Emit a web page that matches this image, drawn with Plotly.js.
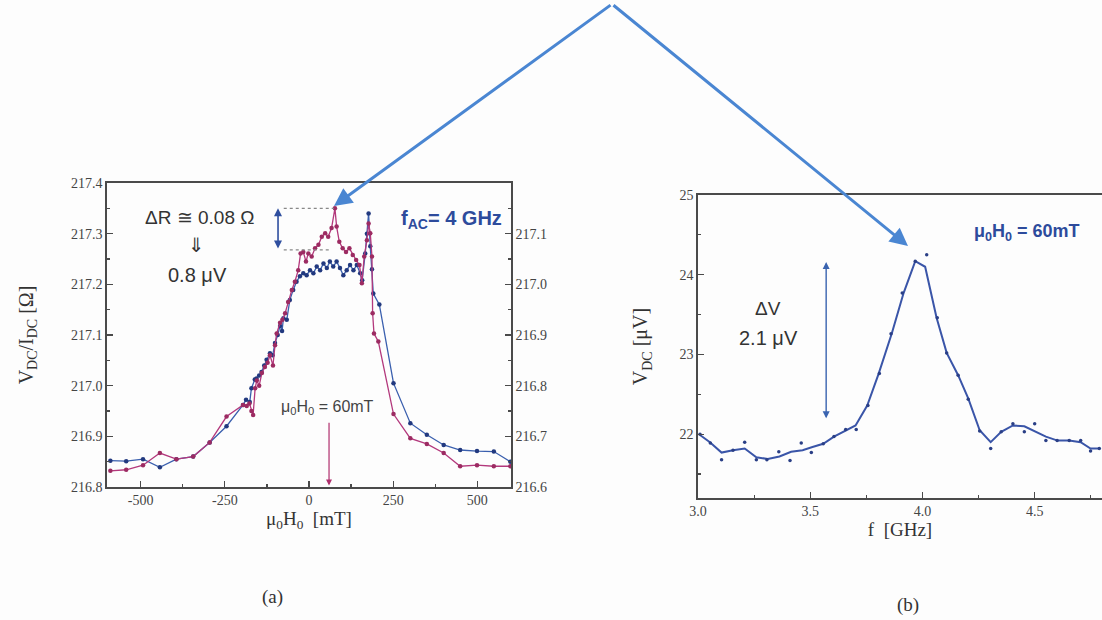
<!DOCTYPE html>
<html>
<head>
<meta charset="utf-8">
<script src="https://cdn.plot.ly/plotly-3.0.1.min.js"></script>
<style>html,body{margin:0;padding:0;background:#fdfdfd;}#chart{width:1102px;height:620px;}</style>
</head>
<body>
<div id="chart"></div>
<script>
// ---- Panel (a): resistance vs field ----
// blue curve, read on the left axis
const blueH = [-590,-543,-493,-443,-394,-344,-295,-245,-196,-187,-176,-171,-161,-156,-148,-141,-133,-126,-116,-108,-101,-93,-86,-80,-76,-66,-57,-47,-37,-27,-17,-7,3,13,23,33,43,53,62,72,82,92,102,112,122,132,142,152,158,167,172,177,182,187,191,209,251,301,350,400,449,499,549,598];
const blueR = [216.852,216.851,216.855,216.839,216.855,216.860,216.888,216.920,216.962,216.972,216.968,216.995,217.012,217.014,217.020,217.027,217.040,217.051,217.064,217.060,217.084,217.100,217.118,217.108,217.133,217.130,217.169,217.189,217.205,217.216,217.222,217.218,217.228,217.222,217.235,217.228,217.241,217.232,217.245,217.235,217.245,217.232,217.218,217.228,217.238,217.228,217.238,217.222,217.208,217.261,217.300,217.340,217.275,217.230,217.182,217.160,217.005,216.926,216.903,216.883,216.873,216.871,216.870,216.850];
// magenta curve, read on the right axis
const magH = [-590,-543,-493,-443,-394,-344,-295,-245,-196,-185,-177,-171,-166,-160,-155,-148,-140,-131,-123,-116,-107,-101,-96,-86,-79,-71,-62,-51,-42,-32,-25,-17,-9,-2,8,18,28,38,48,57,67,77,82,90,100,110,120,130,140,150,157,164,172,177,182,187,189,193,206,251,301,350,400,449,499,549,598];
const magR = [216.632,216.634,216.643,216.667,216.655,216.660,216.688,216.739,216.762,216.760,216.765,216.750,216.742,216.795,216.810,216.800,216.825,216.837,216.845,216.860,216.840,216.880,216.903,216.924,216.930,216.943,216.965,216.989,217.005,217.028,217.061,217.064,217.045,217.061,217.055,217.071,217.078,217.094,217.101,217.094,217.111,217.150,217.114,217.084,217.071,217.064,217.071,217.058,217.048,217.038,217.002,217.055,217.087,217.120,217.101,217.055,216.943,216.903,216.887,216.744,216.696,216.685,216.667,216.641,216.643,216.641,216.641];
const aXTicks = [-500,-250,0,250,500];
const aLeftTicks = [216.8,216.9,217.0,217.1,217.2,217.3,217.4];
const aRightTicks = [216.6,216.7,216.8,216.9,217.0,217.1];

// ---- Panel (b): DC voltage vs frequency ----
const fLine = [3.009,3.053,3.105,3.156,3.208,3.260,3.311,3.363,3.415,3.466,3.510,3.558,3.606,3.658,3.702,3.754,3.805,3.864,3.916,3.968,4.012,4.063,4.108,4.159,4.204,4.255,4.304,4.351,4.403,4.454,4.506,4.550,4.602,4.654,4.705,4.749,4.788];
const vLine = [21.99,21.90,21.77,21.80,21.82,21.71,21.69,21.72,21.78,21.80,21.84,21.88,21.97,22.05,22.11,22.36,22.76,23.27,23.77,24.17,24.10,23.46,23.02,22.74,22.45,22.05,21.90,22.03,22.11,22.10,22.03,21.97,21.92,21.92,21.90,21.82,21.82];
const fDots = [3.009,3.055,3.105,3.156,3.208,3.260,3.307,3.360,3.410,3.460,3.505,3.558,3.606,3.658,3.705,3.757,3.808,3.860,3.910,3.968,4.019,4.066,4.108,4.159,4.204,4.255,4.304,4.351,4.403,4.454,4.500,4.550,4.600,4.654,4.705,4.749,4.788];
const vDots = [22.00,21.89,21.68,21.80,21.90,21.68,21.68,21.78,21.67,21.89,21.77,21.88,21.97,22.06,22.06,22.36,22.76,23.26,23.77,24.17,24.25,23.46,23.02,22.74,22.44,22.04,21.82,22.03,22.13,22.03,22.13,21.92,21.92,21.92,21.92,21.79,21.82];
const bXTicks = [3.0,3.5,4.0,4.5];
const bYTicks = [22,23,24,25];

const W = 1102, H = 620;
const px = x => x / W;
const py = y => 1 - y / H;

const serif = 'Liberation Serif';
const sans = 'Liberation Sans';
const axisCol = '#4a4a4a';
const dkBlue = '#2d4b9c';

const traces = [
  {x: blueH, y: blueR, xaxis: 'x', yaxis: 'y', mode: 'lines+markers',
   line: {color: '#3a5fae', width: 1.3}, marker: {color: '#22397f', size: 4.5}},
  {x: magH, y: magR, xaxis: 'x', yaxis: 'y3', mode: 'lines+markers',
   line: {color: '#b3387c', width: 1.3}, marker: {color: '#9c2b62', size: 4.5}},
  {x: fLine, y: vLine, xaxis: 'x2', yaxis: 'y2', mode: 'lines',
   line: {color: '#3a55a8', width: 2}},
  {x: fDots, y: vDots, xaxis: 'x2', yaxis: 'y2', mode: 'markers',
   marker: {color: '#2a3f86', size: 3.5}}
];

function axisBase() {
  return {
    showgrid: false, zeroline: false, showline: true, linecolor: axisCol, linewidth: 1.6,
    ticks: 'inside', ticklen: 6, tickcolor: axisCol, tickwidth: 1.2,
    tickfont: {family: serif, size: 14, color: '#444'}
  };
}

const layout = {
  width: W, height: H,
  margin: {l: 0, r: 0, t: 0, b: 0},
  paper_bgcolor: '#fdfdfd', plot_bgcolor: 'rgba(0,0,0,0)',
  showlegend: false,
  xaxis: Object.assign(axisBase(), {
    domain: [px(107), px(511)], anchor: 'y', range: [-600, 600], mirror: true,
    tickmode: 'array', tickvals: aXTicks, ticktext: aXTicks.map(String),
    minor: {dtick: 125, tick0: 0, ticks: 'inside', ticklen: 3, tickcolor: axisCol},
    title: {text: 'μ<sub>0</sub>H<sub>0</sub>  [mT]', font: {family: serif, size: 19, color: '#333'}, standoff: 2}
  }),
  yaxis: Object.assign(axisBase(), {
    domain: [py(487), py(183)], anchor: 'x', range: [216.8, 217.4],
    tickmode: 'array', tickvals: aLeftTicks, ticktext: aLeftTicks.map(v => v.toFixed(1)),
    minor: {dtick: 0.05, tick0: 216.8, ticks: 'inside', ticklen: 3, tickcolor: axisCol},
    title: {text: 'V<sub>DC</sub>/I<sub>DC</sub> [Ω]', font: {family: serif, size: 20, color: '#333'}, standoff: 32}
  }),
  yaxis3: Object.assign(axisBase(), {
    overlaying: 'y', side: 'right', anchor: 'x', range: [216.6, 217.2],
    tickmode: 'array', tickvals: aRightTicks, ticktext: aRightTicks.map(v => v.toFixed(1)),
    minor: {dtick: 0.05, tick0: 216.6, ticks: 'inside', ticklen: 3, tickcolor: axisCol}
  }),
  xaxis2: Object.assign(axisBase(), {
    domain: [px(698), 1], anchor: 'y2', range: [3.0, 4.8], mirror: true,
    tickmode: 'array', tickvals: bXTicks, ticktext: bXTicks.map(v => v.toFixed(1)),
    minor: {dtick: 0.25, tick0: 3.0, ticks: 'inside', ticklen: 3, tickcolor: axisCol},
    title: {text: 'f  [GHz]', font: {family: serif, size: 19, color: '#333'}, standoff: 4}
  }),
  yaxis2: Object.assign(axisBase(), {
    domain: [py(498), py(195)], anchor: 'x2', range: [21.2, 25],
    tickmode: 'array', tickvals: bYTicks, ticktext: bYTicks.map(String),
    minor: {dtick: 0.5, tick0: 21, ticks: 'inside', ticklen: 3, tickcolor: axisCol},
    title: {text: 'V<sub>DC</sub> [μV]', font: {family: serif, size: 20, color: '#333'}, standoff: 26}
  }),
  shapes: [
    {type: 'line', xref: 'x', yref: 'y', x0: -75, x1: 74, y0: 217.35, y1: 217.35,
     line: {color: '#888', width: 1.3, dash: 'dot'}},
    {type: 'line', xref: 'x', yref: 'y', x0: -75, x1: 60, y0: 217.268, y1: 217.268,
     line: {color: '#888', width: 1.3, dash: 'dot'}}
  ],
  annotations: [
    // big pointer arrows
    {xref: 'paper', yref: 'paper', x: px(334), y: py(206), ax: 612 - 334, ay: 4 - 206, axref: 'pixel', ayref: 'pixel',
     text: '', showarrow: true, arrowhead: 2, arrowsize: 1.2, arrowwidth: 3, arrowcolor: '#4a86d2'},
    {xref: 'paper', yref: 'paper', x: px(908), y: py(246), ax: 612 - 908, ay: 4 - 246, axref: 'pixel', ayref: 'pixel',
     text: '', showarrow: true, arrowhead: 2, arrowsize: 1.2, arrowwidth: 3, arrowcolor: '#4a86d2'},
    // panel (a) double arrow
    {xref: 'x', yref: 'y', axref: 'x', ayref: 'y', x: -92, y: 217.35, ax: -92, ay: 217.268,
     text: '', showarrow: true, arrowside: 'end+start', arrowhead: 2, arrowsize: 1, arrowwidth: 1.6, arrowcolor: '#2f4f9f'},
    // 60 mT marker arrow
    {xref: 'x', yref: 'y', axref: 'x', ayref: 'y', x: 59.5, y: 216.803, ax: 59.5, ay: 216.93,
     text: '', showarrow: true, arrowhead: 2, arrowsize: 1, arrowwidth: 1.2, arrowcolor: '#b0306e'},
    // panel (b) double arrow
    {xref: 'x2', yref: 'y2', axref: 'x2', ayref: 'y2', x: 3.571, y: 24.16, ax: 3.571, ay: 22.18,
     text: '', showarrow: true, arrowside: 'end+start', arrowhead: 2, arrowsize: 1, arrowwidth: 1.4, arrowcolor: '#3a64b0'},
    // texts
    {xref: 'paper', yref: 'paper', x: px(199), y: py(217), xanchor: 'center', yanchor: 'middle', text: 'ΔR ≅ 0.08 Ω', showarrow: false,
     font: {family: sans, size: 19, color: '#333'}},
    {xref: 'paper', yref: 'paper', x: px(196), y: py(245), xanchor: 'center', yanchor: 'middle', text: '⇓', showarrow: false,
     font: {family: 'DejaVu Sans', size: 20, color: '#333'}},
    {xref: 'paper', yref: 'paper', x: px(197), y: py(275), xanchor: 'center', yanchor: 'middle', text: '0.8 μV', showarrow: false,
     font: {family: sans, size: 20, color: '#333'}},
    {xref: 'paper', yref: 'paper', x: px(451), y: py(219), xanchor: 'center', yanchor: 'middle', text: '<b>f<sub>AC</sub>= 4 GHz</b>', showarrow: false,
     font: {family: sans, size: 20, color: dkBlue}},
    {xref: 'paper', yref: 'paper', x: px(327), y: py(407), xanchor: 'center', yanchor: 'middle', text: 'μ<sub>0</sub>H<sub>0</sub> = 60mT', showarrow: false,
     font: {family: sans, size: 16, color: '#444'}},
    {xref: 'paper', yref: 'paper', x: px(1027), y: py(233), xanchor: 'center', yanchor: 'middle', text: '<b>μ<sub>0</sub>H<sub>0</sub> = 60mT</b>', showarrow: false,
     font: {family: sans, size: 18, color: dkBlue}},
    {xref: 'paper', yref: 'paper', x: px(768), y: py(308), xanchor: 'center', yanchor: 'middle', text: 'ΔV', showarrow: false,
     font: {family: sans, size: 19, color: '#333'}},
    {xref: 'paper', yref: 'paper', x: px(768), y: py(338), xanchor: 'center', yanchor: 'middle', text: '2.1 μV', showarrow: false,
     font: {family: sans, size: 20, color: '#333'}},
    {xref: 'paper', yref: 'paper', x: px(272), y: py(597), xanchor: 'center', yanchor: 'middle', text: '(a)', showarrow: false,
     font: {family: serif, size: 19, color: '#333'}},
    {xref: 'paper', yref: 'paper', x: px(908), y: py(605), xanchor: 'center', yanchor: 'middle', text: '(b)', showarrow: false,
     font: {family: serif, size: 19, color: '#333'}}
  ]
};

Plotly.newPlot('chart', traces, layout, {staticPlot: true, displayModeBar: false});
</script>
</body>
</html>
